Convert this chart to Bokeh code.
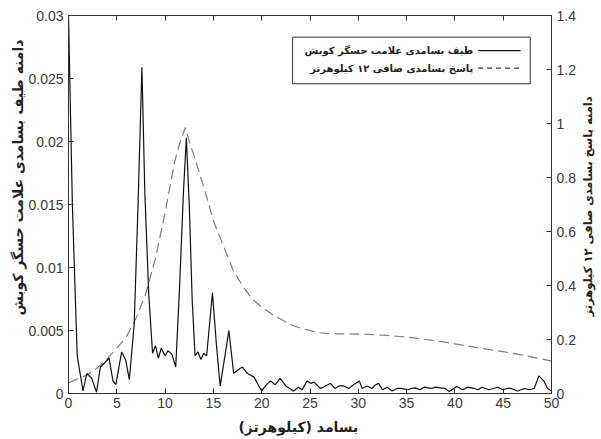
import math
from bokeh.plotting import figure
from bokeh.models import Range1d, LinearAxis, FixedTicker, CustomJSTickFormatter, Label, Title
from bokeh.embed import file_html
from bokeh.resources import INLINE

# ---------------- data ----------------
freq_khz = [0.0, 0.4, 0.9, 1.5, 1.9, 2.4, 2.9, 3.3, 3.7, 4.2, 4.6, 4.9, 5.5, 5.9, 6.3, 6.8, 7.2, 7.6,
            7.9, 8.3, 8.7, 9.0, 9.3, 9.6, 10.0, 10.3, 10.7, 11.1, 11.5, 11.9, 12.2, 12.5, 12.8, 13.1,
            13.4, 13.7, 14.0, 14.3, 14.9, 15.3, 15.7, 16.2, 16.6, 17.1, 17.6, 18.0, 18.5, 19.2, 20.0,
            20.5, 20.9, 21.4, 21.9, 22.5, 23.3, 23.8, 24.2, 24.7, 25.1, 25.4, 26.1, 26.6, 27.1, 27.6,
            28.0, 28.5, 29.0, 29.5, 30.1, 30.4, 30.9, 31.4, 31.8, 32.1, 32.5, 33.0, 33.5, 34.0, 34.4,
            35.1, 35.5, 35.9, 36.4, 36.8, 37.5, 38.0, 38.5, 39.0, 39.4, 40.2, 40.8, 41.3, 42.0, 42.4,
            42.8, 43.5, 44.0, 44.4, 45.0, 45.4, 45.8, 46.5, 47.2, 47.7, 48.2, 48.7, 49.2, 49.6, 50.0]
spectrum_amp = [0.0300, 0.0150, 0.0030, 0.0002, 0.0016, 0.0012, 0.0001, 0.0021, 0.0024, 0.0028, 0.0010,
                0.0007, 0.0033, 0.0027, 0.0011, 0.0055, 0.0150, 0.0259, 0.0160, 0.0080, 0.0032, 0.0038,
                0.0028, 0.0036, 0.0030, 0.0034, 0.0031, 0.0021, 0.0085, 0.0160, 0.0203, 0.0150, 0.0075,
                0.0030, 0.0033, 0.0027, 0.0032, 0.0030, 0.0080, 0.0040, 0.0006, 0.0030, 0.0050, 0.0016,
                0.0019, 0.0021, 0.0016, 0.0013, 0.0002, 0.0007, 0.0010, 0.0007, 0.0012, 0.0006, 0.0002,
                0.0005, 0.0003, 0.0010, 0.0008, 0.0009, 0.0004, 0.0006, 0.0008, 0.0004, 0.0006, 0.0006,
                0.0004, 0.0007, 0.0010, 0.0004, 0.0006, 0.0004, 0.0007, 0.0008, 0.0003, 0.0005, 0.0002,
                0.0004, 0.0004, 0.0003, 0.0004, 0.00045, 0.0003, 0.0005, 0.0004, 0.0005, 0.00045, 0.0004,
                0.00015, 0.00055, 0.0003, 0.0005, 0.0004, 0.0003, 0.0005, 0.0003, 0.0004, 0.0005, 0.0003,
                0.0004, 0.0004, 0.0002, 0.0004, 0.0003, 0.0004, 0.0014, 0.0010, 0.0004, 0.0002]

filter_freq_khz = [0, 1, 2, 3, 4, 5, 6, 7, 8, 9, 10, 11, 11.5, 12.1, 12.5, 13, 14, 15, 16, 17, 18, 19, 20,
                   21, 22, 23, 24, 25, 26, 27, 28, 29, 30, 31, 32, 33, 34, 35, 36, 37, 38, 39, 40, 41, 42,
                   43, 44, 45, 46, 47, 48, 49, 50]
filter_resp = [0.040, 0.055, 0.070, 0.095, 0.128, 0.168, 0.210, 0.280, 0.370, 0.500, 0.670, 0.860, 0.925,
               0.985, 0.935, 0.880, 0.765, 0.640, 0.550, 0.460, 0.400, 0.350, 0.320, 0.295, 0.275, 0.255,
               0.242, 0.233, 0.225, 0.222, 0.221, 0.221, 0.220, 0.219, 0.217, 0.215, 0.212, 0.209, 0.205,
               0.200, 0.195, 0.190, 0.184, 0.178, 0.172, 0.166, 0.160, 0.155, 0.149, 0.142, 0.135, 0.128,
               0.120]

x_ticks = [0, 5, 10, 15, 20, 25, 30, 35, 40, 45, 50]
left_ticks = [0, 0.005, 0.01, 0.015, 0.02, 0.025, 0.03]
right_ticks = [0, 0.2, 0.4, 0.6, 0.8, 1.0, 1.2, 1.4]

x_label = "بسامد (کیلوهرتز)"
left_label = "دامنه طیف بسامدی علامت حسگر کوبش"
right_label = "دامنه پاسخ بسامدی صافی ۱۲ کیلوهرتز"
legend_labels = ["طیف بسامدی علامت حسگر کوبش", "پاسخ بسامدی صافی ۱۲ کیلوهرتز"]

# ---------------- styling ----------------
AX = "#333333"
TICK_FONT = "Liberation Sans"
FA_FONT = "DejaVu Sans"

p = figure(width=600, height=438, x_range=Range1d(0, 50), y_range=Range1d(0, 0.03),
           output_backend="svg", toolbar_location=None,
           min_border_left=68, min_border_right=49, min_border_top=15, min_border_bottom=45)
p.extra_y_ranges = {"filt": Range1d(0, 1.4)}
p.xgrid.visible = False
p.ygrid.visible = False
p.outline_line_color = AX
p.background_fill_color = "white"
p.border_fill_color = "white"


def style_axis(ax, ticks, fmt=None):
    ax.ticker = FixedTicker(ticks=ticks)
    ax.major_tick_in = 5
    ax.major_tick_out = 0
    ax.minor_tick_line_color = None
    ax.axis_line_color = AX
    ax.major_tick_line_color = AX
    ax.major_label_text_font = TICK_FONT
    ax.major_label_text_font_size = "14px"
    ax.major_label_text_color = "#3a3a3a"
    ax.major_label_standoff = 5
    if fmt is not None:
        ax.formatter = fmt


title_kw = dict(text_font=FA_FONT, text_font_style="bold", text_color="#222222",
                text_align="center", text_baseline="middle")

# bottom axis (ticks) + its title as a side-panel label
style_axis(p.xaxis[0], x_ticks)
p.xaxis[0].major_label_standoff = 4
p.add_layout(Label(x=23.8, y=-0.00267, text=x_label, text_font_size="14px", **title_kw), "below")

# left axis (ticks) + side title toward the upper part
style_axis(p.yaxis[0], left_ticks,
           CustomJSTickFormatter(code="return String(Math.round(tick*1000)/1000)"))
p.add_layout(Title(text=left_label, align="left", offset=78, standoff=0,
                   text_font=FA_FONT, text_font_style="bold", text_font_size="14px",
                   text_color="#222222"), "left")

# right axis (ticks) + title reading bottom-to-top
right_axis = LinearAxis(y_range_name="filt")
style_axis(right_axis, right_ticks,
           CustomJSTickFormatter(code="return String(Math.round(tick*10)/10)"))
p.add_layout(right_axis, "right")
p.add_layout(Label(x=53.8, y=0.693, y_range_name="filt", text=right_label, angle=math.pi / 2,
                   text_font_size="11.5px", **title_kw), "right")

# top: ticks only
top_axis = LinearAxis()
style_axis(top_axis, x_ticks, CustomJSTickFormatter(code="return ''"))
top_axis.major_label_standoff = 0
p.add_layout(top_axis, "above")

# ---------------- series ----------------
p.line(filter_freq_khz, filter_resp, y_range_name="filt", line_color="#7d7d7d",
       line_width=1.2, line_dash="10 5")
p.line(freq_khz, spectrum_amp, line_color="#111111", line_width=1.2)

# ---------------- legend ----------------
p.quad(left=[23.2], right=[47.8], bottom=[0.02458], top=[0.02828],
       fill_color="white", line_color=AX, line_width=1, level="annotation")
leg_y = [0.02722, 0.02582]
leg_kw = dict(text_font=FA_FONT, text_font_style="bold", text_font_size="10px",
              text_color="#222222", text_align="right", text_baseline="middle")
for lbl, yy in zip(legend_labels, leg_y):
    p.add_layout(Label(x=41.9, y=yy, text=lbl, **leg_kw))
p.segment(x0=[42.4], y0=[leg_y[0]], x1=[46.8], y1=[leg_y[0]], line_color="#111111",
          line_width=1.2, level="overlay")
p.segment(x0=[42.4], y0=[leg_y[1]], x1=[46.8], y1=[leg_y[1]], line_color="#333333",
          line_width=1.2, line_dash="5 4", level="overlay")

open("out.html", "w").write(file_html(p, INLINE))
